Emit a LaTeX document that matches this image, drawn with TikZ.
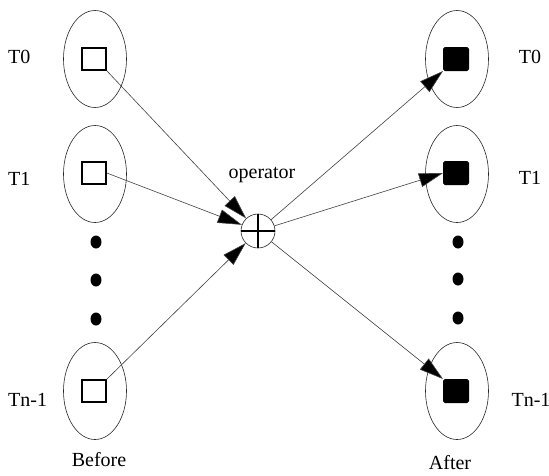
\documentclass[tikz,border=0pt]{standalone}
\usepackage{fontspec}
\setmainfont{Liberation Serif}
\usetikzlibrary{arrows.meta,shapes.geometric}
\begin{document}
\begin{tikzpicture}[x=1pt,y=-1pt,
  lbl/.style={font=\fontsize{20}{24}\selectfont, inner sep=0pt},
  oval/.style={ellipse, draw=black!85, line width=0.6pt, minimum width=63pt, minimum height=97pt, inner sep=0pt},
  sqopen/.style={draw, line width=1.6pt, fill=white, minimum width=24pt, minimum height=22pt, inner sep=0pt},
  sqfull/.style={draw, fill=black, line width=1pt, rounded corners=1.5pt, minimum width=25pt, minimum height=23pt, inner sep=0pt},
  dotn/.style={ellipse, fill=black, minimum width=11pt, minimum height=13pt, inner sep=0pt},
  opc/.style={circle, draw=black!85, line width=0.6pt, minimum size=34pt, inner sep=0pt},
  conn/.style={draw=black!75, line width=0.6pt, -{Triangle[length=24pt,width=14pt,fill=black]}}
]
\useasboundingbox (0,0) rectangle (549,475);

% left ovals
\node[oval] (l0) at (95,59) {};
\node[oval] (l1) at (95,174) {};
\node[oval] (ln) at (95,391) {};
% right ovals
\node[oval] (r0) at (457,59) {};
\node[oval] (r1) at (457,174) {};
\node[oval] (rn) at (457,391) {};

% squares
\node[sqopen] (s0) at (94,59) {};
\node[sqopen] (s1) at (94,173) {};
\node[sqopen] (sn) at (94,391) {};
\node[sqfull] (t0) at (456,59) {};
\node[sqfull] (t1) at (456,173) {};
\node[sqfull] (tn) at (456,391) {};

% dots
\node[dotn] (ld1) at (96,242) {};
\node[dotn] (ld2) at (96,280) {};
\node[dotn] (ld3) at (96,319) {};
\node[dotn] (rd1) at (458,242) {};
\node[dotn] (rd2) at (458,279) {};
\node[dotn] (rd3) at (458,318) {};

% operator
\node[opc] (op) at (258,231) {};
\draw[line width=2pt] (op.north) -- (op.south) (op.west) -- (op.east);
\node[lbl, anchor=base] (optxt) at (262,178) {operator};

% connectors
\draw[conn] (s0.south east) -- (op);
\draw[conn] (s1.east) -- (op);
\draw[conn] (sn.north east) -- (op);
\draw[conn] (op) -- (t0.south west);
\draw[conn] (op) -- (t1.west);
\draw[conn] (op) -- (tn.north west);

% labels
\node[lbl, anchor=base west] (a0) at (8,63) {T0};
\node[lbl, anchor=base west] (a1) at (8,185) {T1};
\node[lbl, anchor=base west] (an) at (8,406) {Tn-1};
\node[lbl, anchor=base] (b0) at (530,63) {T0};
\node[lbl, anchor=base] (b1) at (530,184) {T1};
\node[lbl, anchor=base] (bn) at (531,406) {Tn-1};
\node[lbl, anchor=base] (before) at (99,466) {Before};
\node[lbl, anchor=base] (after) at (450,469) {After};
\end{tikzpicture}
\end{document}
